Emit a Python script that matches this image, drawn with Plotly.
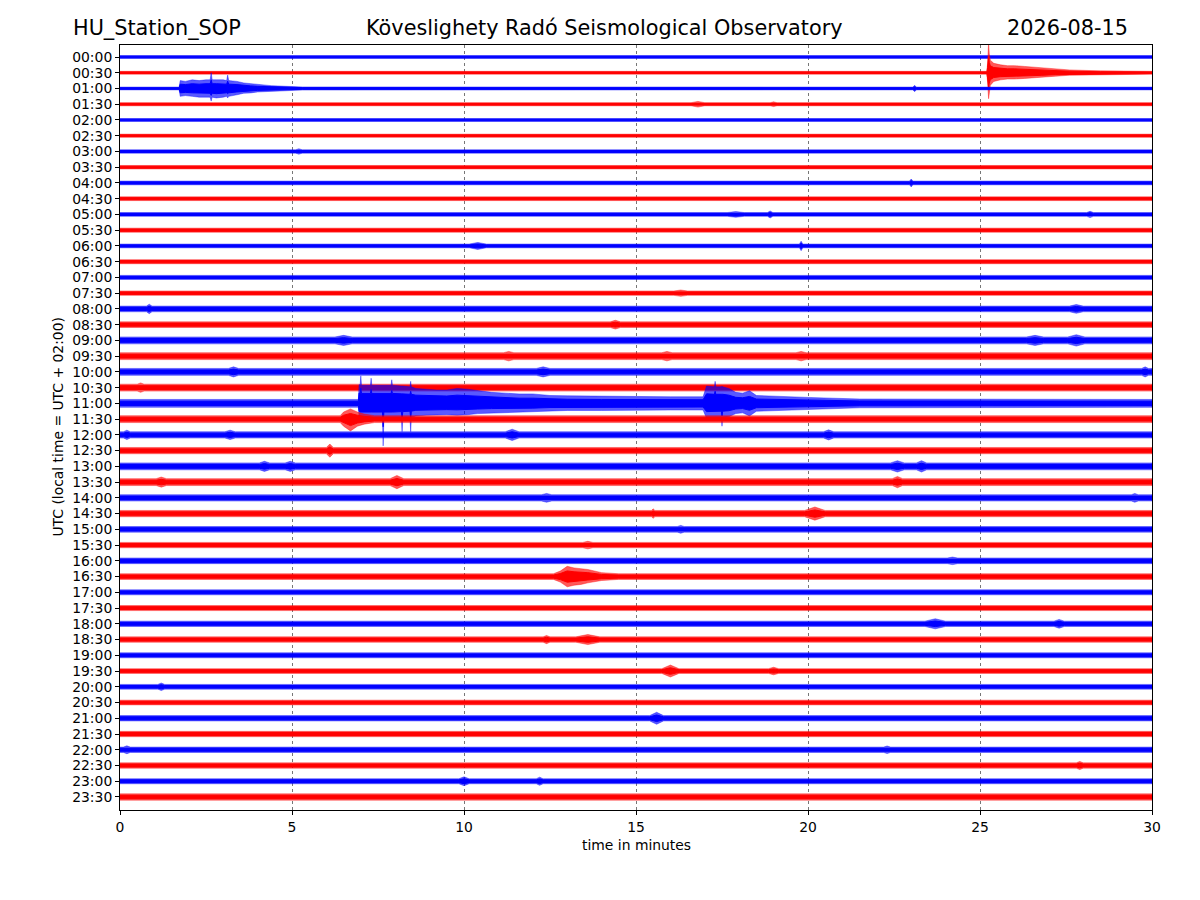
import plotly.graph_objects as go

# ---------------- data ----------------
trace_labels = ["%02d:%02d" % (h, m) for h in range(24) for m in (0, 30)]

# typical half-amplitude of each trace (in trace-spacing units)
baseline = [0.09, 0.09, 0.09, 0.10, 0.09, 0.10, 0.11, 0.11, 0.12, 0.12,
            0.12, 0.13, 0.12, 0.13, 0.13, 0.14, 0.18, 0.18, 0.22, 0.22,
            0.22, 0.22, 0.25, 0.22, 0.20, 0.20, 0.22, 0.22, 0.20, 0.20,
            0.18, 0.17, 0.18, 0.18, 0.16, 0.16, 0.17, 0.17, 0.16, 0.15,
            0.15, 0.15, 0.17, 0.17, 0.17, 0.17, 0.16, 0.20]

# 00:30 local earthquake (time in minutes, upper / lower envelope)
ev_0030_t = [25.20, 25.22, 25.25, 25.27, 25.30, 25.40, 25.60, 25.80, 26.00, 26.30, 26.80, 27.20, 27.60, 28.50]
ev_0030_up = [0.09, 0.60, 1.90, 1.20, 0.80, 0.60, 0.50, 0.45, 0.45, 0.40, 0.32, 0.24, 0.18, 0.12]
ev_0030_dn = [0.09, 0.60, 1.65, 1.20, 0.80, 0.55, 0.45, 0.40, 0.40, 0.36, 0.30, 0.22, 0.16, 0.12]

# 01:00 event
ev_0100_t = [1.72, 1.75, 1.90, 2.10, 2.30, 2.50, 2.62, 2.65, 2.68, 2.80, 3.00, 3.10, 3.13, 3.16, 3.40, 3.60, 3.80, 4.00, 4.40, 4.80, 5.30]
ev_0100_up = [0.09, 0.50, 0.45, 0.55, 0.50, 0.55, 0.55, 1.00, 0.55, 0.55, 0.55, 0.50, 0.85, 0.50, 0.45, 0.35, 0.30, 0.25, 0.18, 0.14, 0.10]
ev_0100_dn = [0.09, 0.50, 0.45, 0.50, 0.55, 0.55, 0.55, 0.80, 0.55, 0.60, 0.55, 0.50, 0.60, 0.50, 0.40, 0.30, 0.28, 0.22, 0.16, 0.13, 0.10]

# 11:00 teleseismic event
ev_1100_t = [6.93, 6.95, 6.98, 7.00, 7.02, 7.28, 7.30, 7.32, 7.63, 7.65, 7.67, 7.88, 7.90, 7.92,
             8.18, 8.20, 8.22, 8.43, 8.45, 8.47, 8.60, 8.90, 9.20, 9.50, 9.80, 10.10,
             10.40, 10.80, 11.20, 11.60, 12.00, 12.50, 13.00, 14.00, 15.00, 16.00, 16.95,
             17.05, 17.28, 17.30, 17.32, 17.48, 17.50, 17.52, 17.70, 17.90, 18.10, 18.30,
             18.50, 19.00, 19.50, 20.00, 20.70, 21.50]
ev_1100_up = [0.25, 1.20, 1.15, 1.75, 1.15, 1.15, 1.60, 1.15, 1.15, 1.15, 1.15, 1.15, 1.50, 1.15,
              1.10, 1.10, 1.10, 1.05, 1.40, 1.05, 0.95, 0.90, 0.85, 0.85, 0.95, 0.90,
              0.80, 0.70, 0.65, 0.60, 0.60, 0.50, 0.48, 0.45, 0.45, 0.42, 0.42,
              1.10, 1.05, 1.40, 1.05, 1.05, 1.10, 1.05, 0.95, 0.70, 0.65, 0.80,
              0.50, 0.45, 0.40, 0.38, 0.33, 0.28]
ev_1100_dn = [0.25, 0.90, 1.00, 1.00, 1.00, 1.00, 1.00, 1.00, 1.00, 2.70, 1.00, 1.00, 1.00, 1.00,
              0.95, 1.80, 0.95, 0.90, 1.80, 0.90, 0.80, 0.75, 0.72, 0.72, 0.75, 0.72,
              0.65, 0.60, 0.60, 0.55, 0.55, 0.48, 0.45, 0.45, 0.45, 0.42, 0.42,
              0.95, 0.90, 0.90, 0.90, 0.90, 1.45, 0.90, 0.85, 0.65, 0.60, 0.80,
              0.50, 0.45, 0.40, 0.38, 0.33, 0.28]

# 11:30 burst
ev_1130_t = [6.40, 6.50, 6.70, 6.90, 7.10, 7.40]
ev_1130_up = [0.22, 0.45, 0.65, 0.45, 0.32, 0.22]
ev_1130_dn = [0.22, 0.45, 0.75, 0.45, 0.32, 0.22]

# 16:30 local event
ev_1630_t = [12.60, 12.80, 13.00, 13.20, 13.40, 13.60, 14.00, 14.50]
ev_1630_up = [0.18, 0.35, 0.65, 0.55, 0.50, 0.45, 0.25, 0.18]
ev_1630_dn = [0.18, 0.35, 0.65, 0.55, 0.50, 0.40, 0.25, 0.18]

events = {
    "00:30": (ev_0030_t, ev_0030_up, ev_0030_dn),
    "01:00": (ev_0100_t, ev_0100_up, ev_0100_dn),
    "11:00": (ev_1100_t, ev_1100_up, ev_1100_dn),
    "11:30": (ev_1130_t, ev_1130_up, ev_1130_dn),
    "16:30": (ev_1630_t, ev_1630_up, ev_1630_dn),
}

# small noise bursts: trace, centre time, half-amplitude, half-duration
burst_trace = ["01:00", "01:30", "01:30", "03:00", "04:00", "05:00", "05:00", "05:00",
               "06:00", "06:00", "07:30", "08:00", "08:00", "08:30", "09:00", "09:00",
               "09:00", "09:30", "09:30", "09:30", "10:00", "10:00", "10:00", "10:30",
               "12:00", "12:00", "12:00", "12:00", "12:30", "13:00", "13:00", "13:00",
               "13:00", "13:30", "13:30", "13:30", "14:00", "14:00", "14:30", "14:30",
               "15:00", "15:30", "16:00", "18:00", "18:00", "18:30", "18:30", "19:30",
               "19:30", "20:00", "21:00", "22:00", "22:00", "22:30", "23:00", "23:00"]
burst_time = [23.1, 16.8, 19.0, 5.2, 23.0, 17.9, 18.9, 28.2,
              10.4, 19.8, 16.3, 0.85, 27.8, 14.4, 6.5, 26.6,
              27.8, 11.3, 15.9, 19.8, 3.3, 12.3, 29.8, 0.6,
              0.2, 3.2, 11.4, 20.6, 6.1, 4.2, 4.95, 22.6,
              23.3, 1.2, 8.05, 22.6, 12.4, 29.5, 20.2, 15.5,
              16.3, 13.6, 24.2, 23.7, 27.3, 13.6, 12.4, 16.0,
              19.0, 1.2, 15.6, 0.2, 22.3, 27.9, 10.0, 12.2]
burst_amp = [0.20, 0.18, 0.15, 0.17, 0.25, 0.18, 0.22, 0.20,
             0.22, 0.30, 0.20, 0.30, 0.28, 0.28, 0.32, 0.32,
             0.36, 0.30, 0.30, 0.30, 0.32, 0.32, 0.32, 0.30,
             0.30, 0.30, 0.36, 0.32, 0.42, 0.32, 0.32, 0.36,
             0.36, 0.32, 0.42, 0.36, 0.28, 0.28, 0.42, 0.30,
             0.25, 0.24, 0.24, 0.32, 0.28, 0.32, 0.26, 0.38,
             0.24, 0.24, 0.38, 0.25, 0.24, 0.26, 0.28, 0.26]
burst_width = [0.05, 0.20, 0.10, 0.10, 0.05, 0.25, 0.08, 0.10,
               0.25, 0.05, 0.20, 0.08, 0.20, 0.15, 0.25, 0.25,
               0.25, 0.15, 0.15, 0.15, 0.15, 0.20, 0.10, 0.10,
               0.10, 0.15, 0.20, 0.15, 0.10, 0.15, 0.15, 0.20,
               0.15, 0.15, 0.20, 0.15, 0.15, 0.10, 0.30, 0.05,
               0.10, 0.15, 0.15, 0.30, 0.15, 0.35, 0.10, 0.25,
               0.15, 0.10, 0.20, 0.10, 0.10, 0.10, 0.15, 0.10]

x_ticks = [0, 5, 10, 15, 20, 25, 30]

station = "HU_Station_SOP"
observatory = "Köveslighety Radó Seismological Observatory"
date_text = "2026-08-15"

# ---------------- figure ----------------
fig = go.Figure()
solid = ["rgb(0,0,255)", "rgb(255,0,0)"]
faint = ["rgba(0,0,255,0.65)", "rgba(255,0,0,0.65)"]

for i, lab in enumerate(trace_labels):
    b = baseline[i]
    pts = [(0.0, b, b), (30.0, b, b)]
    if lab in events:
        tt, uu, dd = events[lab]
        pts += list(zip(tt, uu, dd))
    for k, tr in enumerate(burst_trace):
        if tr == lab:
            c, a, w = burst_time[k], burst_amp[k], burst_width[k]
            pts += [(max(c - w, 0.0), b, b), (c, a, a), (min(c + w, 30.0), b, b)]
    pts.sort(key=lambda p: p[0])
    xs = [p[0] for p in pts]
    # outer (full extent, lighter) envelope
    top = [i - p[1] for p in pts]
    bot = [i + p[2] for p in pts]
    fig.add_trace(go.Scatter(
        x=xs + xs[::-1], y=top + bot[::-1],
        mode="lines", fill="toself", fillcolor=faint[i % 2],
        line=dict(color=faint[i % 2], width=0.6),
        hoverinfo="skip", showlegend=False))
    # dense core of the trace
    top_c = [i - 0.55 * p[1] for p in pts]
    bot_c = [i + 0.55 * p[2] for p in pts]
    fig.add_trace(go.Scatter(
        x=xs + xs[::-1], y=top_c + bot_c[::-1],
        mode="lines", fill="toself", fillcolor=solid[i % 2],
        line=dict(color=solid[i % 2], width=1),
        hoverinfo="skip", showlegend=False))

font = "DejaVu Sans, Arial, sans-serif"
fig.update_layout(
    width=1184, height=884, autosize=False,
    margin=dict(l=112, r=40, t=37, b=82),
    paper_bgcolor="white", plot_bgcolor="white",
    font=dict(family=font, size=13.9, color="black"),
    showlegend=False,
)
fig.update_xaxes(
    range=[0, 30], tickvals=x_ticks, ticktext=[str(v) for v in x_ticks],
    showline=True, mirror=True, linecolor="black", linewidth=1,
    ticks="outside", ticklen=4, tickwidth=1, tickcolor="black",
    showgrid=True, gridcolor="#777777", gridwidth=0.7, griddash="dot",
    zeroline=False, tickfont=dict(size=13.9),
)
fig.update_yaxes(
    range=[47.826, -0.762], tickvals=list(range(len(trace_labels))), ticktext=trace_labels,
    showline=True, mirror=True, linecolor="black", linewidth=1,
    ticks="outside", ticklen=4, tickwidth=1, tickcolor="black",
    showgrid=False, zeroline=False, tickfont=dict(size=13.9),
)

fig.add_annotation(text=station, xref="paper", yref="paper", x=-0.0475, y=1.0222,
                   xanchor="left", yanchor="middle", showarrow=False, font=dict(size=20.8))
fig.add_annotation(text=observatory, xref="paper", yref="paper", x=0.469, y=1.0222,
                   xanchor="center", yanchor="middle", showarrow=False, font=dict(size=20.8))
fig.add_annotation(text=date_text, xref="paper", yref="paper", x=0.9787, y=1.0222,
                   xanchor="right", yanchor="middle", showarrow=False, font=dict(size=20.8))
fig.add_annotation(text="time in minutes", xref="paper", yref="paper", x=0.5, y=-0.0458,
                   xanchor="center", yanchor="middle", showarrow=False, font=dict(size=13.9))
fig.add_annotation(text="UTC (local time = UTC + 02:00)", xref="paper", yref="paper",
                   x=-0.061, y=0.5, textangle=-90, xanchor="center", yanchor="middle",
                   showarrow=False, font=dict(size=13.9))

fig.write_html("out.html")
